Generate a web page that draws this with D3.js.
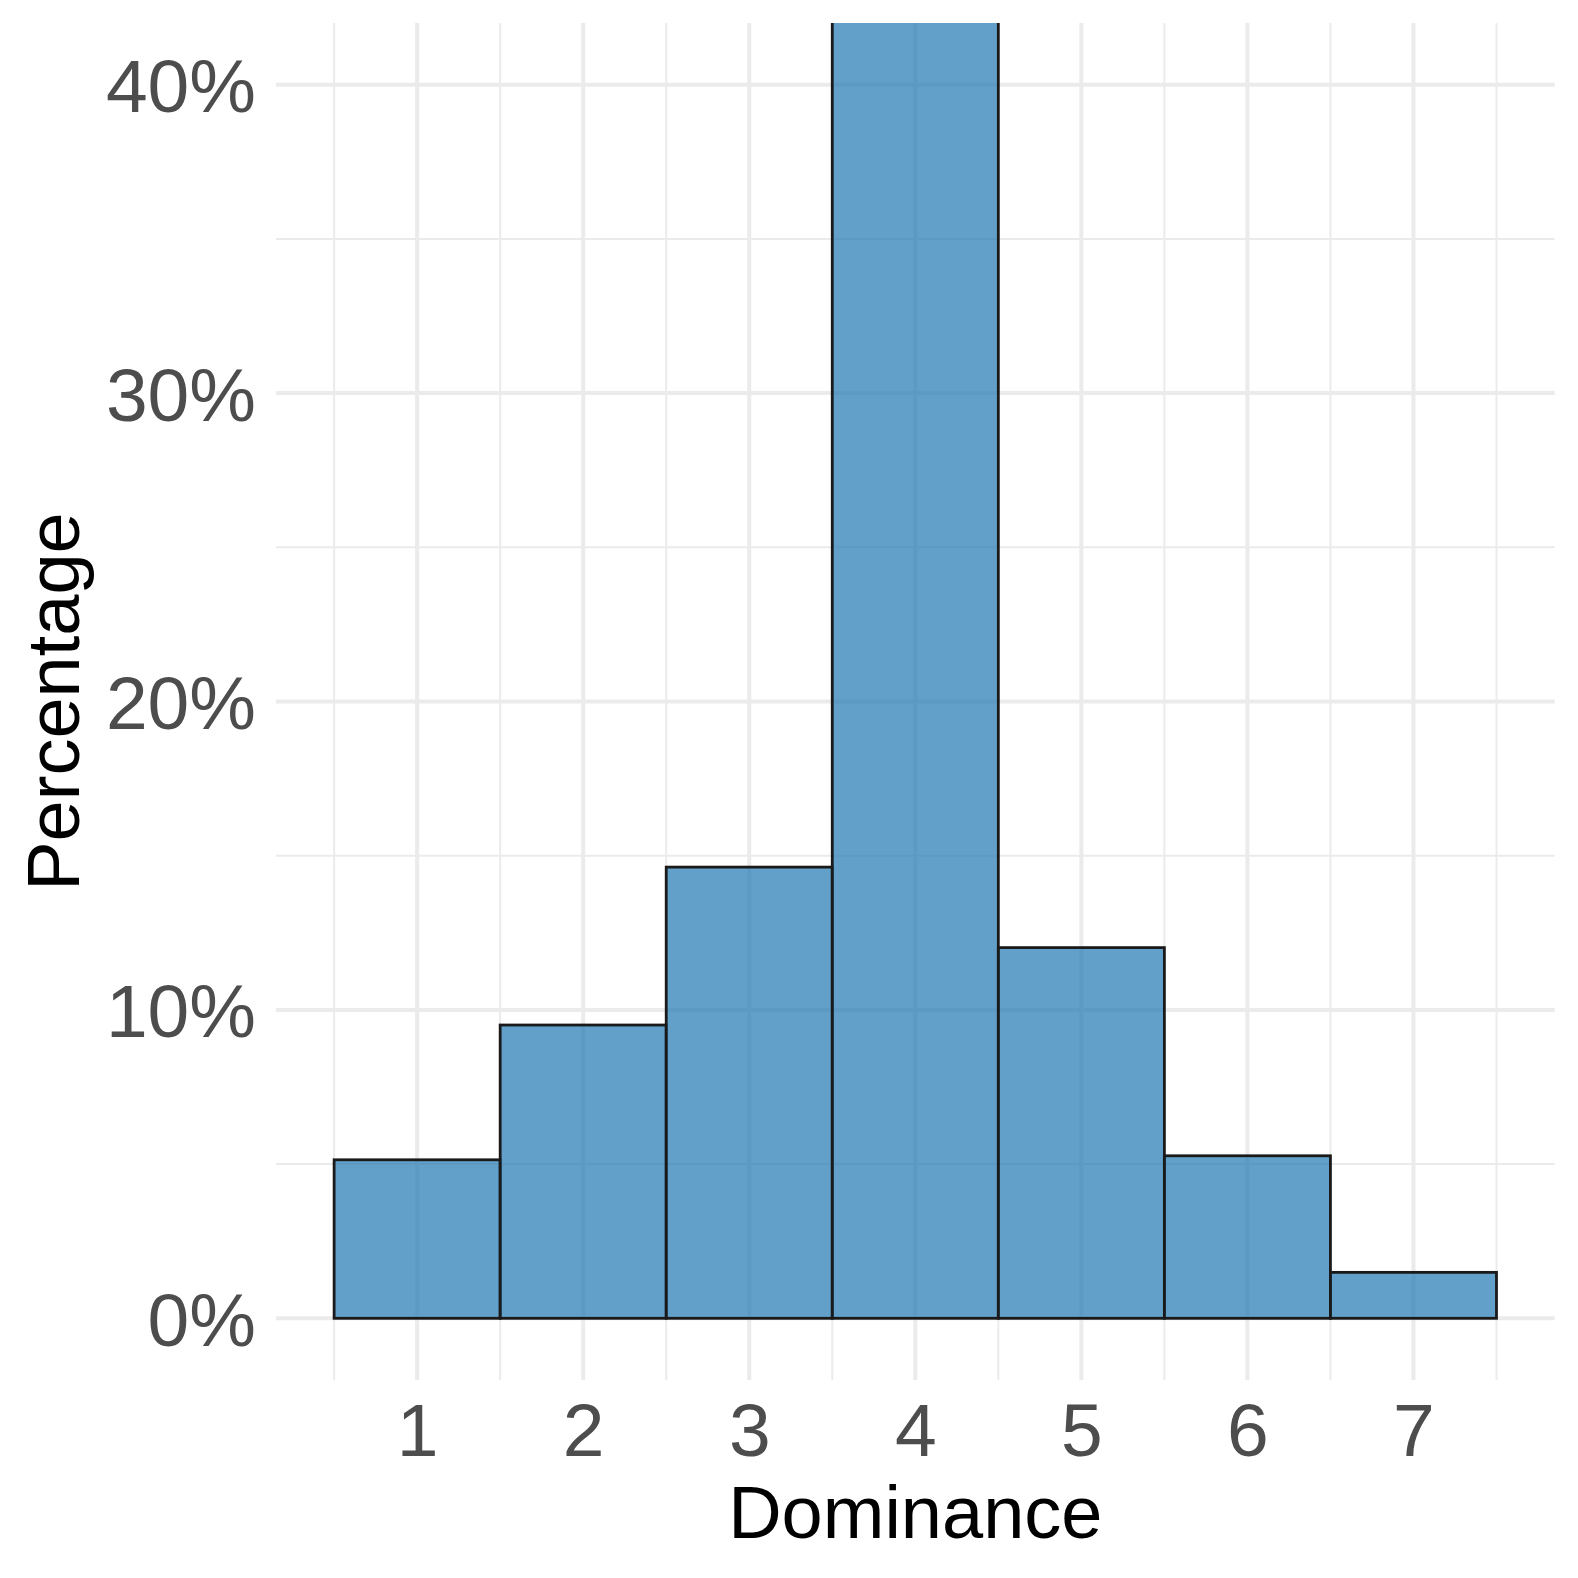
<!DOCTYPE html>
<html>
<head>
<meta charset="utf-8">
<script src="https://cdn.jsdelivr.net/npm/d3@7"></script>
<style>
  body { margin: 0; background: #fff; }
  svg { display: block; font-family: "Liberation Sans", Arial, sans-serif; }
</style>
</head>
<body>
<div id="chart"></div>
<script>
// values (bar 4 runs past the top of the panel)
const categories = [1, 2, 3, 4, 5, 6, 7];
const percents = [5.14, 9.51, 14.63, 51.9, 12.02, 5.27, 1.49];
const yTicks = [0, 10, 20, 30, 40];
const yMinor = [5, 15, 25, 35];

const W = 1578, H = 1578;
const panel = { left: 276, right: 1554.6, top: 23, bottom: 1380 };

const svg = d3.select('#chart').append('svg')
    .attr('width', W).attr('height', H);

const x = d3.scaleLinear().domain([0.15, 7.85]).range([panel.left, panel.right]);
const y = d3.scaleLinear().domain([-2, 42]).range([panel.bottom, panel.top]);

// grid
const grid = svg.append('g');
const xMinor = d3.range(0.5, 8, 1);

grid.selectAll('.vminor').data(xMinor).enter().append('line')
    .attr('x1', d => x(d)).attr('x2', d => x(d))
    .attr('y1', panel.top).attr('y2', panel.bottom)
    .attr('stroke', '#ebebeb').attr('stroke-width', 2);
grid.selectAll('.hminor').data(yMinor).enter().append('line')
    .attr('x1', panel.left).attr('x2', panel.right)
    .attr('y1', d => y(d)).attr('y2', d => y(d))
    .attr('stroke', '#ebebeb').attr('stroke-width', 2);
grid.selectAll('.vmajor').data(categories).enter().append('line')
    .attr('x1', d => x(d)).attr('x2', d => x(d))
    .attr('y1', panel.top).attr('y2', panel.bottom)
    .attr('stroke', '#ebebeb').attr('stroke-width', 4);
grid.selectAll('.hmajor').data(yTicks).enter().append('line')
    .attr('x1', panel.left).attr('x2', panel.right)
    .attr('y1', d => y(d)).attr('y2', d => y(d))
    .attr('stroke', '#ebebeb').attr('stroke-width', 4);

// bars, clipped to the panel
svg.append('clipPath').attr('id', 'clip')
  .append('rect')
    .attr('x', panel.left).attr('y', panel.top)
    .attr('width', panel.right - panel.left).attr('height', panel.bottom - panel.top);

svg.append('g').attr('clip-path', 'url(#clip)')
  .selectAll('rect').data(categories).enter().append('rect')
    .attr('x', d => x(d - 0.5))
    .attr('width', d => x(d + 0.5) - x(d - 0.5))
    .attr('y', (d, i) => y(percents[i]))
    .attr('height', (d, i) => y(0) - y(percents[i]))
    .attr('fill', '#1f77b4').attr('fill-opacity', 0.7)
    .attr('stroke', '#1a1a1a').attr('stroke-width', 2.8);

// axes
const yAxis = svg.append('g')
    .attr('transform', `translate(${panel.left},0)`)
    .call(d3.axisLeft(y).tickValues(yTicks).tickSize(0).tickPadding(20).tickFormat(d => d + '%'));

const xAxis = svg.append('g')
    .attr('transform', `translate(0,${panel.bottom})`)
    .call(d3.axisBottom(x).tickValues(categories).tickSize(0).tickPadding(23).tickFormat(d3.format('d')));

[yAxis, xAxis].forEach(a => {
    a.select('.domain').remove();
    a.selectAll('text')
        .attr('fill', '#4d4d4d')
        .style('font-size', '75px')
        .style('font-family', '"Liberation Sans", Arial, sans-serif');
});
yAxis.selectAll('text').attr('dy', '0.36em');

// titles
svg.append('text')
    .attr('x', (panel.left + panel.right) / 2).attr('y', 1538)
    .attr('text-anchor', 'middle')
    .style('font-size', '74px').attr('fill', '#000')
    .text('Dominance');

svg.append('text')
    .attr('transform', `translate(79,${(panel.top + panel.bottom) / 2}) rotate(-90)`)
    .attr('text-anchor', 'middle')
    .style('font-size', '74px').attr('fill', '#000')
    .text('Percentage');
</script>
</body>
</html>
